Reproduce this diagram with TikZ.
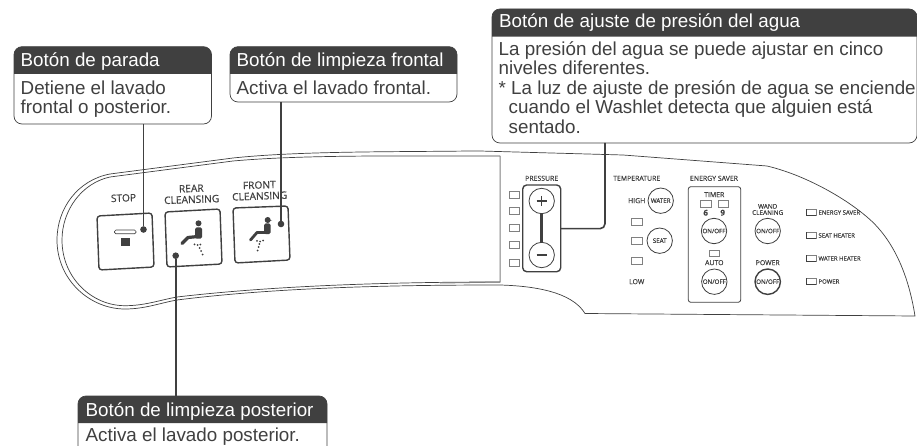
\documentclass[tikz,border=0pt]{standalone}
\usepackage{fontspec}
\setmainfont{Liberation Sans}
\newfontfamily\panelfont[FakeBold=0.6]{Open Sans}
\definecolor{ink}{HTML}{404040}
\definecolor{soft}{HTML}{808080}
\newcommand{\fs}[1]{\fontsize{#1}{#1}\selectfont}
\tikzset{
  calloutbox/.style={draw=ink,line width=0.7pt,fill=white,rounded corners=8pt,rectangle,anchor=north west,inner sep=0pt,outer sep=0pt},
  headtext/.style={text=white,anchor=base west,inner sep=0pt,font=\fontsize{18.8}{19.4}\selectfont},
  bodytext/.style={text=ink,anchor=north west,inner sep=0pt,align=left,font=\fontsize{18.8}{19.4}\selectfont},
  leader/.style={draw=ink,line width=1.6pt},
  leaderdot/.style={circle,fill=ink,inner sep=0pt,minimum size=6.6pt,outer sep=0pt},
  panelline/.style={draw=ink,line width=0.7pt},
  keybox/.style={draw=ink,line width=1.4pt,rounded corners=3pt,fill=white},
  lbl/.style={text=ink,inner sep=0pt,font=\panelfont\fs{6.9}},
  biglbl/.style={text=ink,inner sep=0pt,align=center,rotate=2,font=\panelfont\fontsize{10.2}{11}\selectfont},
  roundkey/.style={circle,draw=ink,line width=0.8pt,fill=white,minimum size=25.4pt,inner sep=0pt,text=ink,font=\panelfont\fs{6.2}},
  lamp/.style={draw=soft,line width=0.6pt,fill=white},
  lampdark/.style={draw=ink,line width=0.7pt},
  seatdot/.style={fill=ink},
}
\newcommand{\lampat}[2]{\draw[lamp] (#1,#2) rectangle ++(10.4,6.7);}
\newcommand{\legendlamp}[2]{\draw[lamp] (#1,#2) rectangle ++(10,6.7);\draw[lampdark] (#1,#2) -- ++(0,6.7) -- ++(10,0);}
\begin{document}
\begin{tikzpicture}[x=1pt,y=-1pt]
\useasboundingbox (0,0) rectangle (917,446);
% panel outline
\draw[panelline] (480,151) -- (470,151) .. controls (390,152) and (300,151) .. (233,158) -- (110,174)
  .. controls (78,180) and (57,208) .. (57,240)
  .. controls (57,280) and (90,309) .. (125,309)
  .. controls (145,309) and (160,303) .. (177,300)
  .. controls (280,287) and (400,285) .. (500,285)
  .. controls (535,286) and (572,292) .. (585,313.5)
  -- (915,316)
  .. controls (908,272) and (892,238) .. (867,217)
  .. controls (845,198) and (805,175) .. (767,166)
  -- (623,155) -- cycle;
\draw[panelline] (500,156) -- (470,156) .. controls (390,156) and (300,155) .. (233,161) -- (110,177)
  .. controls (82,183) and (62,210) .. (62,240)
  .. controls (62,278) and (92,305.7) .. (125,305.7)
  .. controls (145,305.7) and (160,300) .. (177,297)
  .. controls (280,285) and (400,282) .. (500,282);
\draw[draw=soft,line width=1pt] (500,156) -- (500,282) -- (440,283);
% large keys
\draw[keybox] (97,216) -- (152,213) -- (154,267) -- (99,270) -- cycle;
\draw[keybox] (165,212) -- (220,209) -- (222,264) -- (167,267) -- cycle;
\draw[keybox] (233,208) -- (288,206) -- (290,260) -- (235,263) -- cycle;
\node[biglbl] (lstop) at (123.5,198) {STOP};
\node[biglbl] (lrear) at (191.5,194) {REAR\\CLEANSING};
\node[biglbl] (lfront) at (259.5,190.5) {FRONT\\CLEANSING};
% stop symbol
\draw[draw=ink,line width=0.7pt,rounded corners=1.5pt] (114.5,230) rectangle (136,233.8);
\fill[ink] (121,238) rectangle (130,246);
% rear icon
\fill[ink] (198.5,223.3) circle (3);
\fill[ink,rounded corners=1.5pt] (195,227.5) rectangle (202,238.5);
\draw[ink,line width=3.2pt,line cap=round,line join=round] (198,236.5) -- (188,237.5) -- (182,243.5);
\foreach \p in {(194.5,244.3),(197.5,245),(200.3,244.5),(199.5,248),(201,251),(202.7,254.5)}{\fill[seatdot] \p circle (1);}
% front icon
\fill[ink] (267.7,220) circle (3);
\fill[ink] (265,219) -- (272,220.5) -- (265,221.5) -- cycle;
\fill[ink,rounded corners=1.5pt] (264,223.5) rectangle (270.5,234);
\draw[ink,line width=2.8pt,line cap=round,line join=round] (267,232.5) -- (257,232.5) -- (250.5,240);
\foreach \p in {(257,240.8),(260,241.5),(263,240.5),(259.3,244),(258.5,247),(257.5,250.5)}{\fill[seatdot] \p circle (1);}
% pressure
\node[lbl] (lpress) at (541.7,178.3) {PRESSURE};
\foreach \y in {191.7,207.3,224.3,241.7,259.3}{\lampat{509.3}{\y}}
\node[draw=ink,line width=1.4pt,rounded corners=4pt,minimum width=38pt,minimum height=86.7pt,inner sep=0pt,outer sep=0pt,anchor=north west] (pbox) at (522.7,185) {};
\node[roundkey] (kplus) at (541.7,201) {};
\node[roundkey] (kminus) at (541.7,255) {};
\draw[ink,line width=2.8pt] (kplus) -- (kminus);
\draw[ink,line width=1.1pt] (536.5,201) -- (547,201) (541.7,196) -- (541.7,206.2);
\draw[ink,line width=1.5pt] (536.5,255) -- (547,255);
% temperature
\node[lbl] (ltemp) at (636.7,178.3) {TEMPERATURE};
\node[lbl] (lhigh) at (636.7,200.7) {HIGH};
\node[lbl] (llow) at (636.7,281.7) {LOW};
\node[roundkey] (kwater) at (660.7,200.7) {WATER};
\node[roundkey] (kseat) at (659.7,240.7) {SEAT};
\foreach \y in {218.3,237.7,257.7}{\lampat{631.5}{\y}}
% energy saver
\node[lbl] (lsaver) at (714,178.3) {ENERGY SAVER};
\node[draw=ink,line width=0.8pt,rounded corners=2.5pt,minimum width=52.4pt,minimum height=115.6pt,inner sep=0pt,outer sep=0pt,anchor=north west] (ebox) at (688.3,186.7) {};
\node[lbl] (ltimer) at (714.3,194.7) {TIMER};
\lampat{700.7}{200.7}
\lampat{718.3}{200.7}
\node[lbl,font=\panelfont\bfseries\fs{8}] (lsix) at (705.7,212.7) {6};
\node[lbl,font=\panelfont\bfseries\fs{8}] (lnine) at (722.7,212.7) {9};
\node[roundkey] (ktimer) at (714,231) {ON/OFF};
\lampat{709.3}{250}
\node[lbl] (lauto) at (714.3,262.7) {AUTO};
\node[roundkey] (kauto) at (714.3,281.7) {ON/OFF};
% wand and power
\node[lbl,align=center,font=\panelfont\fontsize{6.4}{6.2}\selectfont] (lwand) at (767.7,209.5) {WAND\\CLEANING};
\node[roundkey] (kwand) at (767.7,231) {ON/OFF};
\node[lbl] (lpower) at (767.7,262.7) {POWER};
\node[roundkey,line width=1.4pt] (kpower) at (767.7,281.7) {ON/OFF};
% legend
\foreach \y/\t/\n in {209/ENERGY SAVER/la,232/SEAT HEATER/lb,255/WATER HEATER/lc,278/POWER/ld}{
  \legendlamp{806}{\y}
  \node[lbl,anchor=west,font=\panelfont\fs{6}] (\n) at (818.3,\y+3.5) {\t};
}
% callouts
\node[calloutbox,minimum width=197.5pt,minimum height=77.3pt] (b1) at (14,46.7) {};
\fill[ink] (b1.south west |- 0,74) [rounded corners=8pt] -- (b1.north west) -- (b1.north east) [sharp corners] -- (b1.south east |- 0,74) -- cycle;
\node[headtext] (t1) at (20.5,66.7) {Botón de parada};
\node[bodytext] (d1) at (20.5,80.6) {Detiene el lavado\\frontal o posterior.};

\node[calloutbox,minimum width=227pt,minimum height=55.3pt] (b2) at (230,46.7) {};
\fill[ink] (b2.south west |- 0,74) [rounded corners=8pt] -- (b2.north west) -- (b2.north east) [sharp corners] -- (b2.south east |- 0,74) -- cycle;
\node[headtext] (t2) at (236.5,66.7) {Botón de limpieza frontal};
\node[bodytext] (d2) at (236.5,80.6) {Activa el lavado frontal.};

\node[calloutbox,minimum width=425pt,minimum height=134pt] (b3) at (492,9) {};
\fill[ink] (b3.south west |- 0,36.7) [rounded corners=8pt] -- (b3.north west) -- (b3.north east) [sharp corners] -- (b3.south east |- 0,36.7) -- cycle;
\node[headtext] (t3) at (499,28) {Botón de ajuste de presión del agua};
\node[bodytext] (d3) at (498.5,41.4) {La presión del agua se puede ajustar en cinco\\niveles diferentes.\\* La luz de ajuste de presión de agua se enciende\\\hspace*{10pt}cuando el Washlet detecta que alguien está\\\hspace*{10pt}sentado.};

\node[calloutbox,minimum width=249pt,minimum height=70pt] (b4) at (78,396) {};
\fill[ink] (b4.south west |- 0,423) [rounded corners=8pt] -- (b4.north west) -- (b4.north east) [sharp corners] -- (b4.south east |- 0,423) -- cycle;
\node[headtext] (t4) at (85.5,416) {Botón de limpieza posterior};
\node[bodytext] (d4) at (85.5,428) {Activa el lavado posterior.};
% leaders
\node[leaderdot] (dstop) at (143.5,229.5) {};
\node[leaderdot] (dfront) at (281,224) {};
\node[leaderdot] (drear) at (175.7,255.7) {};
\draw[leader] (b1.south -| dstop) -- (dstop);
\draw[leader] (b2.south -| dfront) -- (dfront);
\draw[leader] (b4.north -| drear) -- (drear);
\coordinate (pout) at (pbox.east |- 0,228.7);
\draw[leader,rounded corners=5pt] (pout) -| (b3.south -| 605,0);
\end{tikzpicture}
\end{document}
